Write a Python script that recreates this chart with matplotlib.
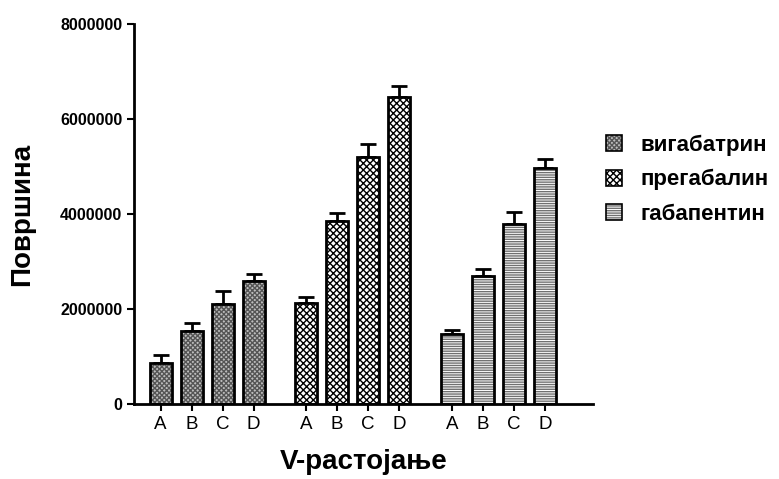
import numpy as np
import matplotlib.pyplot as plt

plt.rcParams['font.family'] = ['Liberation Sans', 'DejaVu Sans']
plt.rcParams['hatch.linewidth'] = 1.0

# Peak area for each compound at V-distance settings A-D
distances = ['A', 'B', 'C', 'D']
compounds = ['вигабатрин', 'прегабалин', 'габапентин']
vigabatrin = [860000, 1540000, 2100000, 2590000]
vigabatrin_err = [170000, 170000, 280000, 140000]
pregabalin = [2130000, 3850000, 5200000, 6460000]
pregabalin_err = [120000, 170000, 270000, 230000]
gabapentin = [1470000, 2690000, 3780000, 4970000]
gabapentin_err = [90000, 150000, 260000, 180000]

means = [vigabatrin, pregabalin, gabapentin]
errs = [vigabatrin_err, pregabalin_err, gabapentin_err]
styles = [
    dict(facecolor='#bdbdbd', hatch='xxxxxxx', hatch_color='#555555'),
    dict(facecolor='white', hatch='xxxxx', hatch_color='black'),
    dict(facecolor='white', hatch='-------', hatch_color='#707070'),
]

fig = plt.figure(figsize=(7.79, 4.79), dpi=100)
ax = fig.add_axes([0.172, 0.1566, 0.589, 0.7934])

group_gap = 4.7
positions = []
handles = []
for i, (m, e, st) in enumerate(zip(means, errs, styles)):
    x = np.arange(len(distances)) + i * group_gap
    positions.extend(x)
    bars = ax.bar(x, m, width=0.71, facecolor=st['facecolor'], edgecolor='black',
                  linewidth=2, hatch=st['hatch'], label=compounds[i], zorder=2)
    for b in bars:
        b._hatch_color = plt.matplotlib.colors.to_rgba(st['hatch_color'])
    ax.errorbar(x, m, yerr=[np.zeros(len(e)), e], fmt='none', ecolor='black',
                elinewidth=2, capsize=6, capthick=2, zorder=1)
    handles.append(bars)

ax.set_ylim(0, 8000000)
ax.set_xlim(-0.86, 13.95)
ax.set_yticks([0, 2000000, 4000000, 6000000, 8000000])
ax.set_yticklabels(['0', '2000000', '4000000', '6000000', '8000000'],
                   fontsize=11.5, fontweight='bold')
ax.set_xticks(positions)
ax.set_xticklabels(distances * 3, fontsize=13.5)

for side in ['top', 'right']:
    ax.spines[side].set_visible(False)
for side in ['left', 'bottom']:
    ax.spines[side].set_linewidth(2)
ax.tick_params(axis='both', width=1.5, length=5, direction='out')
ax.tick_params(axis='x', pad=4)

ax.set_ylabel('Површина', fontsize=20, fontweight='bold', labelpad=18)
ax.set_xlabel('V-растојање', fontsize=20, fontweight='bold', labelpad=11)

leg = fig.legend(handles=handles, labels=compounds, loc='center left',
                 bbox_to_anchor=(0.752, 0.625), frameon=False,
                 prop={'size': 16, 'weight': 'bold'}, handlelength=0.75,
                 handleheight=0.75, handletextpad=0.8, labelspacing=0.6)
for patch in leg.get_patches():
    patch.set_linewidth(1.2)

fig.savefig('out.png', dpi=100)
